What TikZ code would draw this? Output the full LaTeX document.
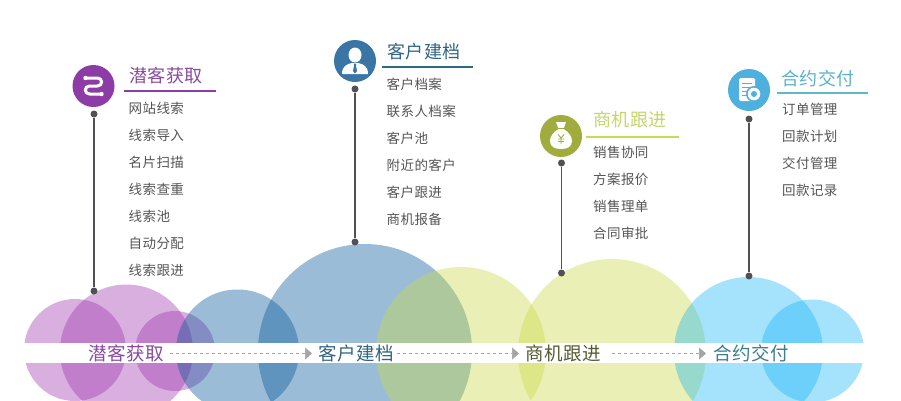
\documentclass[tikz,border=0pt]{standalone}
\usepackage{fontspec}
\usetikzlibrary{arrows.meta}
\newfontfamily\cjkitem[LetterSpace=3]{Noto Sans CJK SC}
\newfontfamily\cjktitle[LetterSpace=3]{Noto Sans CJK SC}
\newfontfamily\cjkband[LetterSpace=4]{Noto Sans CJK SC}
\definecolor{cp}{RGB}{155,47,173}
\definecolor{cb}{RGB}{5,88,155}
\definecolor{cg}{RGB}{203,218,70}
\definecolor{cc}{RGB}{12,179,247}
\definecolor{ipurple}{RGB}{142,60,165}
\definecolor{iblue}{RGB}{58,118,165}
\definecolor{igreen}{RGB}{160,172,62}
\definecolor{icyan}{RGB}{78,176,222}
\definecolor{tpurple}{RGB}{135,75,160}
\definecolor{tblue}{RGB}{50,100,130}
\definecolor{tgreen}{RGB}{198,214,105}
\definecolor{tcyan}{RGB}{90,178,205}
\definecolor{lgreen}{RGB}{200,218,80}
\definecolor{lcyan}{RGB}{95,185,205}
\definecolor{lblue}{RGB}{45,105,130}
\definecolor{ltext}{RGB}{85,85,85}
\definecolor{pin}{RGB}{80,80,85}
\definecolor{bandolive}{RGB}{85,92,50}
\definecolor{bandteal}{RGB}{60,125,145}
\definecolor{flowgray}{RGB}{165,165,165}
\tikzset{
  pc/.style={fill=cp,fill opacity=.38},
  bc/.style={fill=cb,fill opacity=.40},
  gc/.style={fill=cg,fill opacity=.40},
  cyc/.style={fill=cc,fill opacity=.37},
  item/.style={anchor=west,inner sep=0pt,font=\cjkitem\fontsize{13.5}{13.5}\selectfont,text=ltext},
  ttl/.style={anchor=west,inner sep=0pt,font=\cjktitle\fontsize{18}{18}\selectfont},
  band/.style={anchor=west,inner sep=0pt,font=\cjkband\fontsize{18.5}{18.5}\selectfont},
  icon/.style={circle,minimum size=42pt,inner sep=0pt},
  dotn/.style={circle,fill=pin,minimum size=7pt,inner sep=0pt},
  pinline/.style={draw=pin,line width=1.5pt},
  rule/.style={line width=1.2pt},
  flow/.style={draw=flowgray,line width=.7pt,dash pattern=on 3.5pt off 2.5pt,-{Triangle[length=7pt,width=12pt,color=flowgray]}},
  ink/.style={draw=white,line width=3pt,line cap=round,line join=round},
}
\begin{document}
\begin{tikzpicture}[x=1pt,y=-1pt]
\useasboundingbox (0,0) rectangle (901,400);
\fill[white] (0,0) rectangle (901,400);
\begin{scope}
\clip (0,0) rectangle (901,400);
\fill[pc] (75,350) circle[radius=51];
\fill[pc] (126.5,351) circle[radius=66.5];
\fill[pc] (175,351) circle[radius=40];
\fill[bc] (237.5,351) circle[radius=61.5];
\fill[bc] (365,351) circle[radius=107];
\fill[gc] (461,352) circle[radius=85];
\fill[gc] (612,353) circle[radius=94];
\fill[cyc] (748.5,351.5) circle[radius=74.5];
\fill[cyc] (812.5,351) circle[radius=51.5];
\end{scope}
\fill[white] (24,343) rectangle (866,363);

% band labels and flow
\node[band,text=tpurple] (bandA) at (88,353.5) {潜客获取};
\node[band,text=tblue] (bandB) at (318,353.5) {客户建档};
\node[band,text=bandolive] (bandC) at (525,353.5) {商机跟进};
\node[band,text=bandteal] (bandD) at (713,353.5) {合约交付};
\draw[flow,shorten <=5pt,shorten >=6pt] (bandA.east) -- (bandB.west);
\draw[flow,shorten <=2pt,shorten >=6pt] (bandB.east) -- (bandC.west);
\draw[flow,shorten <=10pt,shorten >=7pt] (bandC.east) -- (bandD.west);

% icons
\node[icon,fill=ipurple] (iconA) at (93.5,86) {};
\node[icon,fill=iblue] (iconB) at (355,61) {};
\node[icon,fill=igreen] (iconC) at (561,136) {};
\node[icon,fill=icyan] (iconD) at (749,90) {};

% icon A
\begin{scope}[shift={(iconA.center)}]
\draw[ink] (-7,-8) -- (4,-8) .. controls (9.5,-8) and (9.5,0) .. (4,0) -- (-4,0) .. controls (-9.5,0) and (-9.5,8) .. (-4,8) -- (7,8);
\fill[white] (-8,-8) circle[radius=2.2] (8,8) circle[radius=2.2];
\end{scope}
% icon B
\begin{scope}[shift={(iconB.center)}]
\fill[white] (0,-6) ellipse[x radius=6.5,y radius=7.5];
\fill[white] (-13,13) .. controls (-13,5) and (-8,3) .. (-3,2) -- (3,2) .. controls (8,3) and (13,5) .. (13,13) -- cycle;
\fill[iblue] (-1.2,2.5) -- (1.2,2.5) -- (1,5) -- (2,10) -- (0,12.5) -- (-2,10) -- (-1,5) -- cycle;
\end{scope}
% icon C
\begin{scope}[shift={(iconC.center)}]
\fill[white] (-5,-14) -- (5,-14) -- (2.5,-7) .. controls (8,-4) and (11,1) .. (11,5) .. controls (11,11) and (6,13) .. (0,13) .. controls (-6,13) and (-11,11) .. (-11,5) .. controls (-11,1) and (-8,-4) .. (-2.5,-7) -- cycle;
\draw[igreen,line width=.9pt] (-3.5,-7.5) -- (3.5,-7.5);
\draw[igreen,line width=.9pt] (-3,-1.5) -- (0,2) -- (3,-1.5) (0,2) -- (0,8) (-3,3) -- (3,3) (-3,5.5) -- (3,5.5);
\end{scope}
% icon D
\begin{scope}[shift={(iconD.center)}]
\fill[white,rounded corners=1.5pt] (-10,-12) -- (6,-12) -- (6,11) -- (-10,11) -- cycle;
\draw[icyan,line width=1pt] (-7.5,-7) -- (2.5,-7) (-7.5,-3) -- (1,-3) (-7.5,1) -- (-1.5,1) (-7.5,5) -- (-2.5,5);
\fill[icyan] (5,4) circle[radius=8];
\fill[white] (5,4) circle[radius=6.3];
\fill[icyan] (5,4) circle[radius=3];
\end{scope}

% pins
\node[dotn] (dA1) at (94,114) {};
\node[dotn] (dA2) at (94,291) {};
\node[dotn] (dB1) at (355,89) {};
\node[dotn] (dB2) at (355,242) {};
\node[dotn] (dC1) at (561.5,163) {};
\node[dotn] (dC2) at (561.5,273) {};
\node[dotn] (dD1) at (749,119) {};
\node[dotn] (dD2) at (749,276) {};
\draw[pinline] (dA1) -- (dA2);
\draw[pinline] (dB1) -- (dB2);
\draw[pinline] (dC1) -- (dC2);
\draw[pinline] (dD1) -- (dD2);

% titles and rules
\node[ttl,text=tpurple] (tA) at (129,75.5) {潜客获取};
\coordinate (rA1) at (124,91); \coordinate (rA2) at (216,91);
\draw[rule,draw=ipurple] (rA1) -- (rA2);
\node[ttl,text=tblue] (tB) at (387,51.5) {客户建档};
\coordinate (rB1) at (382,67); \coordinate (rB2) at (473,67);
\draw[rule,draw=lblue] (rB1) -- (rB2);
\node[ttl,text=tgreen] (tC) at (593,119.5) {商机跟进};
\coordinate (rC1) at (586,137); \coordinate (rC2) at (679,137);
\draw[rule,draw=lgreen] (rC1) -- (rC2);
\node[ttl,text=tcyan] (tD) at (781,78.5) {合约交付};
\coordinate (rD1) at (777,93); \coordinate (rD2) at (868,93);
\draw[rule,draw=lcyan] (rD1) -- (rD2);

% items
\node[item] (a1) at (128.5,108.5) {网站线索};
\node[item] (a2) at (128.5,135.5) {线索导入};
\node[item] (a3) at (128.5,162.5) {名片扫描};
\node[item] (a4) at (128.5,189.5) {线索查重};
\node[item] (a5) at (128.5,216.5) {线索池};
\node[item] (a6) at (128.5,243.5) {自动分配};
\node[item] (a7) at (128.5,270.5) {线索跟进};
\node[item] (b1) at (386.5,84.5) {客户档案};
\node[item] (b2) at (386.5,111.5) {联系人档案};
\node[item] (b3) at (386.5,138.5) {客户池};
\node[item] (b4) at (386.5,165.5) {附近的客户};
\node[item] (b5) at (386.5,192.5) {客户跟进};
\node[item] (b6) at (386.5,219.5) {商机报备};
\node[item] (c1) at (593,152.5) {销售协同};
\node[item] (c2) at (593,179.5) {方案报价};
\node[item] (c3) at (593,206.5) {销售理单};
\node[item] (c4) at (593,233.5) {合同审批};
\node[item] (d1) at (782,109.5) {订单管理};
\node[item] (d2) at (782,136.5) {回款计划};
\node[item] (d3) at (782,163.5) {交付管理};
\node[item] (d4) at (782,190.5) {回款记录};
\end{tikzpicture}
\end{document}
